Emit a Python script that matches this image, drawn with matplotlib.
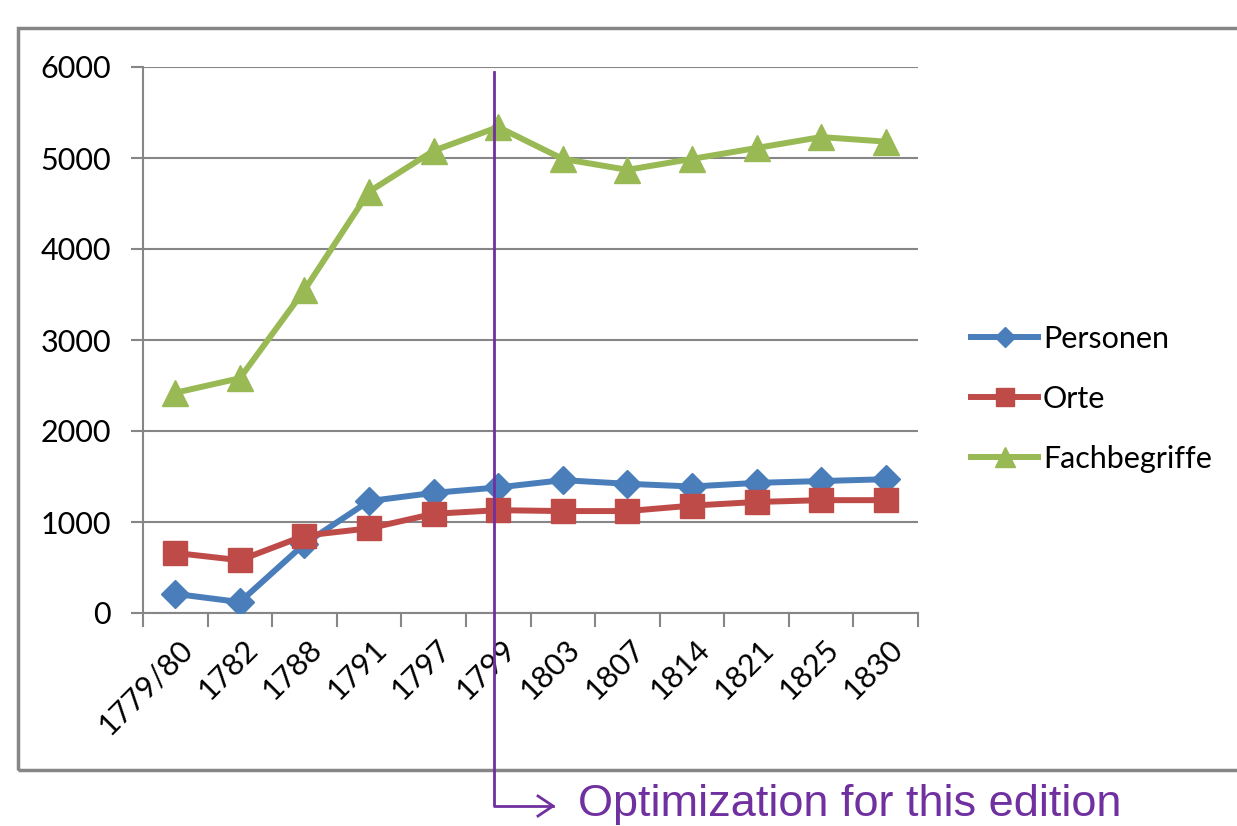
import numpy as np
import matplotlib.pyplot as plt
import matplotlib.transforms as mtransforms
from matplotlib.patches import Rectangle
from matplotlib.lines import Line2D

# Daten
jahre = ["1779/80", "1782", "1788", "1791", "1797", "1799",
         "1803", "1807", "1814", "1821", "1825", "1830"]
personen = [210, 120, 760, 1230, 1320, 1380, 1460, 1420, 1390, 1430, 1450, 1470]
orte = [660, 580, 850, 930, 1090, 1130, 1120, 1120, 1180, 1220, 1240, 1240]
fachbegriffe = [2420, 2580, 3550, 4630, 5080, 5340, 4990, 4870, 4990, 5110, 5230, 5180]

plt.rcParams['font.family'] = ['Lato', 'DejaVu Sans']

fig = plt.figure(figsize=(12.37, 8.26), dpi=100)
ax = fig.add_axes([143/1237, 1-613/826, 775/1237, 546/826])

x = np.arange(len(jahre))
ax.plot(x, personen, color="#4A7EBB", lw=4.3, marker="D", ms=14, label="Personen", zorder=3)
ax.plot(x, orte, color="#BE4B48", lw=4.3, marker="s", ms=17, label="Orte", zorder=3)
ax.plot(x, fachbegriffe, color="#98B954", lw=4.3, marker="^", ms=19, label="Fachbegriffe", zorder=3)

# achsen im excel stil
ax.set_xlim(-0.5, len(jahre) - 0.5)
ax.set_ylim(0, 6000)
ax.set_yticks(np.arange(0, 6001, 1000))
ax.tick_params(axis='y', labelsize=22, length=9, color="#868686", width=1.5, pad=14)
ax.yaxis.grid(True, color="#868686", lw=1.5)
ax.set_axisbelow(True)
for s in ["top", "right"]:
    ax.spines[s].set_visible(False)
ax.spines["left"].set_color("#868686")
ax.spines["bottom"].set_color("#868686")
ax.spines["left"].set_linewidth(1.5)
ax.spines["bottom"].set_linewidth(1.5)

ax.set_xticks(np.arange(-0.5, len(jahre)), minor=False)
ax.set_xticklabels([])
ax.set_xticks(x, minor=True)
ax.set_xticklabels(jahre, minor=True, rotation=45, ha="right", va="top",
                   rotation_mode="anchor", fontsize=22)
ax.tick_params(axis='x', which='major', length=10, color="#868686", width=1.5, direction="out")
ax.tick_params(axis='x', which='minor', length=0, pad=12)
verschiebung = mtransforms.ScaledTranslation(3/100, -5/100, fig.dpi_scale_trans)
for lbl in ax.get_xticklabels(minor=True):
    lbl.set_transform(lbl.get_transform() + verschiebung)

ax.legend(loc="center left", bbox_to_anchor=(1.033, 0.392), frameon=False, fontsize=22,
          handlelength=2.2, handletextpad=0.15, labelspacing=1.05, markerscale=0.75)

# rahmen um das diagramm
fig.add_artist(Rectangle((18/1237, 1-770/826), 1.0, (770-28)/826, transform=fig.transFigure,
                         fill=False, edgecolor="#868686", lw=2.5))

# markierung
lila = "#7030A0"
fig.add_artist(Line2D([494/1237, 494/1237, 553/1237], [1-72/826, 1-806/826, 1-806/826],
                      transform=fig.transFigure, color=lila, lw=2))
fig.add_artist(Line2D([538/1237, 553/1237, 538/1237], [1-796/826, 1-806/826, 1-816/826],
                      transform=fig.transFigure, color=lila, lw=2))
fig.text(578/1237, 1-816/826, "Optimization for this edition", color=lila, fontsize=32.5,
         family="Liberation Sans", va="baseline", ha="left")

fig.savefig("out.png", dpi=100)
